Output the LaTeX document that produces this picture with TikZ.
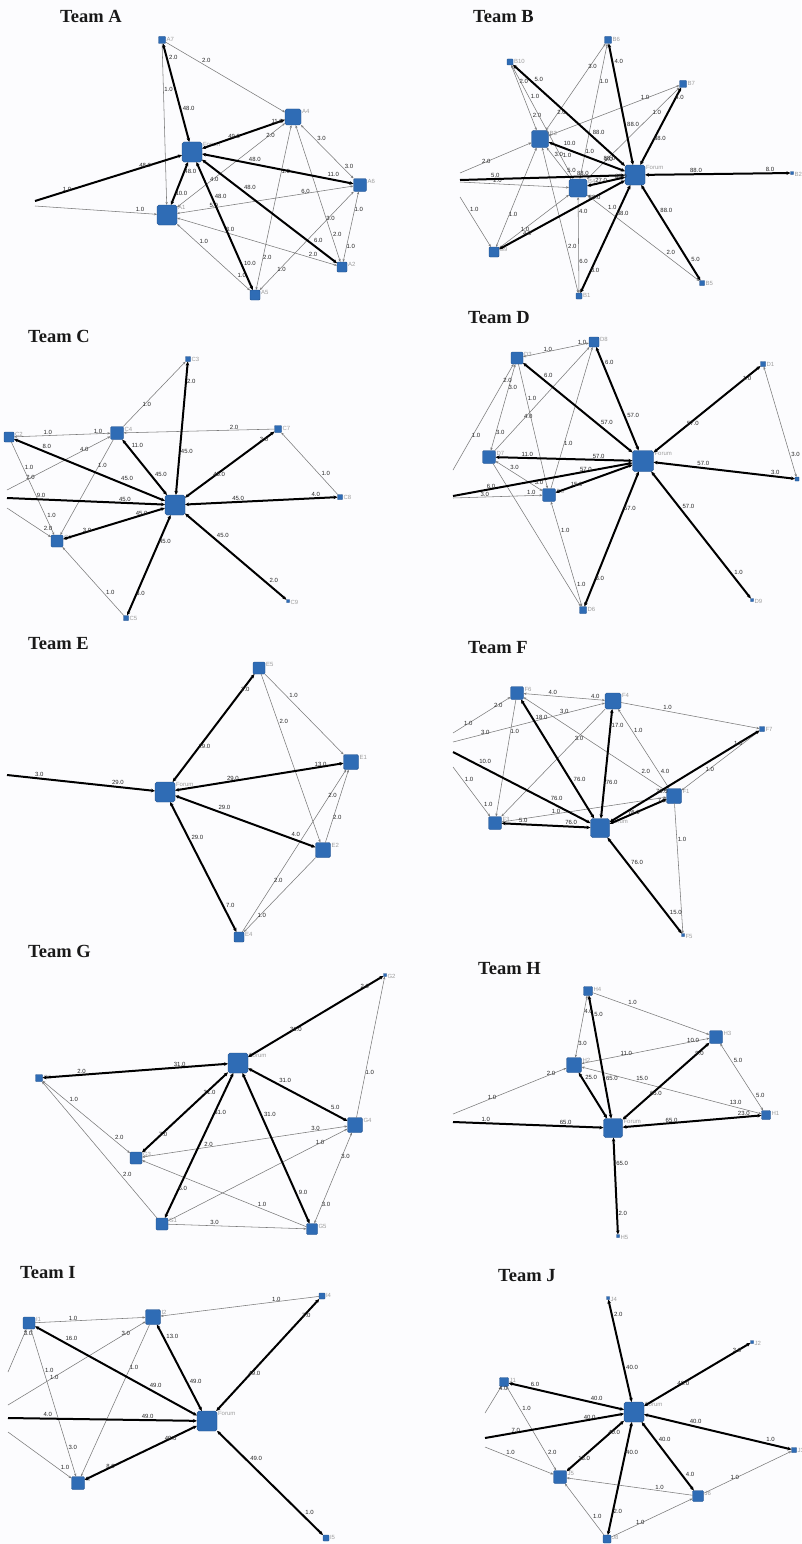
\documentclass[tikz,border=0pt]{standalone}
\usepackage{fontspec}
\setmainfont{Liberation Serif}
\newfontfamily\sansf{Liberation Sans}
\usetikzlibrary{arrows.meta}
\definecolor{nb}{HTML}{2F6CB5}
\definecolor{nbd}{HTML}{1F4E8A}
\definecolor{eg}{HTML}{7A7A7A}
\definecolor{bgc}{HTML}{FCFCFE}
\tikzset{
  nd/.style={draw=nbd, line width=0.4pt, fill=nb, /utils/exec={\pgfmathsetmacro\rcrn{min(1.8,#1*0.1)}}, rounded corners=\rcrn pt, minimum size=#1pt, inner sep=0pt, outer sep=0pt},
  nl/.style={anchor=west, font=\sansf\fontsize{6}{6}\selectfont, text=black!38, inner sep=0.8pt, yshift=-2.5pt},
  lbl/.style={anchor=south west, font=\sansf\fontsize{6}{6}\selectfont, text=black!85, inner sep=0.5pt},
  th/.style={line width=2pt, black, >={Stealth[length=4pt,width=3.6pt]}},
  tn/.style={line width=0.55pt, eg, >={Stealth[length=3pt,width=2.3pt]}},
  ttl/.style={anchor=base west, font=\bfseries\fontsize{18.5}{19}\selectfont, inner sep=0pt, text=black!90}
}
\newcommand\nd[5]{\node[nd=#4, label={[nl]north east:#5}] (#1) at (#2,#3) {};}
\newcommand\ed[5]{\draw[#1] (#2) -- node[lbl,pos=.3]{#4} node[lbl,pos=.82]{#5} (#3);}
\begin{document}
\begin{tikzpicture}[x=1pt,y=-1pt]
\fill[bgc] (0,0) rectangle (801,1544);
\useasboundingbox (0,0) rectangle (801,1544);
% ================= Team A
\node[ttl] (tA) at (60,23) {Team A};
\nd{A7}{162}{40}{7}{A7}
\nd{A4}{293}{117}{16}{A4}
\nd{AF}{192}{152}{20}{Forum}
\nd{A6}{360}{185}{13}{A6}
\nd{A1}{167}{215}{20}{A1}
\nd{A2}{342}{267}{10}{A2}
\nd{A5}{255}{295}{10}{A5}
\coordinate (AL1) at (35,201);
\coordinate (AL2) at (35,206);
\ed{tn,->}{A7}{A4}{2.0}{}
\ed{tn,->}{A7}{A1}{1.0}{}
\ed{tn,<->}{A1}{A4}{4.0}{2.0}
\ed{tn,<->}{A4}{A6}{3.0}{3.0}
\ed{tn,<->}{A4}{A5}{1.0}{2.0}
\ed{tn,<->}{A4}{A2}{}{2.0}
\ed{tn,<->}{A6}{A1}{6.0}{5.0}
\ed{tn,<->}{A6}{A2}{1.0}{1.0}
\ed{tn,<->}{A6}{A5}{3.0}{1.0}
\ed{tn,<->}{A1}{A2}{3.0}{2.0}
\ed{tn,<->}{A1}{A5}{1.0}{1.0}
\ed{tn,->}{AL2}{A1}{}{1.0}
\ed{th,<->}{AF}{A7}{48.0}{2.0}
\ed{th,<->}{AF}{A4}{49.0}{11.0}
\ed{th,<-}{AF}{AL1}{48.0}{1.0}
\ed{th,<->}{AF}{A6}{48.0}{11.0}
\ed{th,<->}{AF}{A1}{48.0}{10.0}
\ed{th,<->}{AF}{A5}{48.0}{10.0}
\ed{th,<->}{AF}{A2}{48.0}{6.0}
% ================= Team B
\node[ttl] (tB) at (473,23) {Team B};
\nd{B6}{608}{40}{7}{B6}
\nd{B10}{510}{62}{6}{B10}
\nd{B7}{683}{84}{7}{B7}
\nd{B3}{540}{139}{17}{B3}
\nd{BF}{635}{175}{20}{Forum}
\nd{B2}{792}{173}{3}{B2}
\nd{B4}{578}{188}{18}{B4}
\nd{B9}{494}{252}{10}{B9}
\nd{B1}{579}{296}{6}{B1}
\nd{B5}{702}{283}{5}{B5}
\coordinate (BL1) at (460,180);
\coordinate (BL2) at (460,173);
\coordinate (BL3) at (460,182);
\coordinate (BL4) at (460,197);
\ed{tn,<->}{B10}{B3}{2.0}{2.0}
\ed{tn,<->}{B10}{B4}{1.0}{1.0}
\ed{tn,<->}{B6}{B3}{3.0}{2.0}
\ed{tn,<->}{B6}{B4}{1.0}{1.0}
\ed{tn,<->}{B7}{B3}{1.0}{}
\ed{tn,<->}{B7}{B4}{1.0}{1.0}
\ed{tn,->}{BL2}{B3}{2.0}{}
\ed{tn,->}{BL3}{B4}{2.0}{}
\ed{tn,->}{BL4}{B9}{1.0}{}
\ed{tn,<->}{B9}{B3}{1.0}{}
\ed{tn,<->}{B9}{B4}{1.0}{}
\ed{tn,<->}{B1}{B3}{2.0}{}
\ed{tn,<->}{B1}{B4}{6.0}{4.0}
\ed{tn,<->}{B5}{B4}{2.0}{1.0}
\ed{tn,<->}{B3}{B4}{3.0}{5.0}
\ed{th,<->}{BF}{B6}{88.0}{4.0}
\ed{th,<->}{BF}{B10}{88.0}{5.0}
\ed{th,<->}{BF}{B7}{88.0}{4.0}
\ed{th,<->}{BF}{B2}{88.0}{8.0}
\ed{th,<->}{BF}{B5}{88.0}{5.0}
\ed{th,<->}{BF}{B1}{88.0}{8.0}
\ed{th,<->}{BF}{B9}{88.0}{4.0}
\ed{th,<-}{BF}{BL1}{88.0}{5.0}
\ed{th,<->}{BF}{B3}{88.0}{10.0}
\ed{th,<->}{BF}{B4}{88.0}{27.0}
% ================= Team C
\node[ttl] (tC) at (28,342) {Team C};
\nd{C3}{188}{359}{5}{C3}
\nd{C2}{9}{437}{10}{C2}
\nd{C4}{117}{433}{13}{C4}
\nd{C7}{278}{429}{7}{C7}
\nd{C8}{340}{497}{5}{C8}
\nd{CF}{175}{505}{20}{}
\nd{C1}{57}{541}{12}{C1}
\nd{C9}{288}{601}{3}{C9}
\nd{C5}{126}{618}{5}{C5}
\coordinate (CL1) at (7,498);
\coordinate (CL2) at (7,490);
\coordinate (CL3) at (7,508);
\ed{tn,<->}{C2}{C4}{1.0}{1.0}
\ed{tn,->}{C4}{C3}{1.0}{}
\ed{tn,->}{C7}{C4}{2.0}{}
\ed{tn,->}{C8}{C7}{1.0}{}
\ed{tn,->}{C4}{C1}{1.0}{}
\ed{tn,<-}{C4}{CL2}{4.0}{2.0}
\ed{tn,->}{C2}{C1}{1.0}{1.0}
\ed{tn,->}{CL3}{C1}{}{2.0}
\ed{tn,->}{C5}{C1}{1.0}{}
\ed{th,<->}{CF}{C3}{45.0}{2.0}
\ed{th,<->}{CF}{C2}{45.0}{8.0}
\ed{th,<->}{CF}{C4}{45.0}{11.0}
\ed{th,<->}{CF}{C7}{45.0}{3.0}
\ed{th,<->}{CF}{C8}{45.0}{4.0}
\ed{th,<-}{CF}{CL1}{45.0}{9.0}
\ed{th,<->}{CF}{C1}{45.0}{3.0}
\ed{th,<->}{CF}{C5}{45.0}{3.0}
\ed{th,<->}{CF}{C9}{45.0}{2.0}
% ================= Team D
\node[ttl] (tD) at (468,323) {Team D};
\nd{D8}{594}{342}{10}{D8}
\nd{D3}{517}{358}{12}{D3}
\nd{D1}{763}{364}{5}{D1}
\nd{D7}{489}{457}{13}{D7}
\nd{DF}{643}{461}{21}{Forum}
\node[nd=4] (DR) at (797,479) {};
\nd{D5}{549}{495}{13}{D5}
\nd{D6}{583}{610}{7}{D6}
\nd{D9}{752}{600}{3}{D9}
\coordinate (DL1) at (453,496);
\coordinate (DL2) at (453,470);
\coordinate (DL3) at (453,498);
\ed{tn,<->}{D3}{D8}{1.0}{1.0}
\ed{tn,<->}{D3}{D7}{3.0}{3.0}
\ed{tn,->}{D3}{D5}{1.0}{}
\ed{tn,->}{D7}{D8}{4.0}{}
\ed{tn,->}{D5}{D8}{1.0}{}
\ed{tn,<->}{D7}{D5}{3.0}{3.0}
\ed{tn,->}{D7}{D6}{}{}
\ed{tn,<->}{D5}{D6}{1.0}{1.0}
\ed{tn,->}{DL2}{D3}{1.0}{2.0}
\ed{tn,->}{DL3}{D5}{3.0}{1.0}
\ed{tn,<->}{D1}{DR}{}{3.0}
\ed{th,<->}{DF}{D8}{57.0}{6.0}
\ed{th,<->}{DF}{D3}{57.0}{6.0}
\ed{th,<->}{DF}{D1}{57.0}{1.0}
\ed{th,<->}{DF}{D7}{57.0}{11.0}
\ed{th,<-}{DF}{DL1}{57.0}{6.0}
\ed{th,<->}{DF}{D5}{}{15.0}
\ed{th,<->}{DF}{DR}{57.0}{3.0}
\ed{th,<->}{DF}{D9}{57.0}{1.0}
\ed{th,<->}{DF}{D6}{57.0}{8.0}
% ================= Team E
\node[ttl] (tE) at (28,649) {Team E};
\nd{E5}{259}{668}{12}{E5}
\nd{E1}{351}{762}{15}{E1}
\nd{EF}{165}{792}{20}{Forum}
\nd{E2}{323}{850}{15}{E2}
\nd{E4}{239}{937}{10}{E4}
\coordinate (EL) at (7,775);
\ed{tn,->}{E5}{E1}{1.0}{}
\ed{tn,->}{E5}{E2}{2.0}{}
\ed{tn,->}{E4}{E1}{2.0}{2.0}
\ed{tn,->}{E2}{E1}{2.0}{}
\ed{tn,->}{E2}{E4}{}{1.0}
\ed{th,<->}{EF}{E5}{29.0}{2.0}
\ed{th,<->}{EF}{E1}{29.0}{13.0}
\ed{th,<-}{EF}{EL}{29.0}{3.0}
\ed{th,<->}{EF}{E2}{29.0}{4.0}
\ed{th,<->}{EF}{E4}{29.0}{7.0}
% ================= Team F
\node[ttl] (tF) at (468,653) {Team F};
\nd{F6}{517}{693}{13}{F6}
\nd{F4}{613}{701}{16}{F4}
\nd{F7}{762}{729}{5}{F7}
\nd{F1}{674}{796}{15}{F1}
\nd{F3}{495}{823}{13}{F3}
\nd{FF}{600}{828}{19}{Forum}
\nd{F5}{683}{935}{3}{F5}
\coordinate (FL0) at (453,733);
\coordinate (FL1) at (453,742);
\coordinate (FL2) at (453,752);
\coordinate (FL3) at (453,767);
\ed{tn,<->}{F6}{F4}{4.0}{4.0}
\ed{tn,->}{F4}{F7}{1.0}{}
\ed{tn,<-}{F6}{FL0}{2.0}{1.0}
\ed{tn,<-}{F4}{FL1}{3.0}{3.0}
\ed{tn,->}{F6}{F3}{1.0}{}
\ed{tn,<->}{F6}{F1}{}{2.0}
\ed{tn,->}{F4}{F3}{3.0}{}
\ed{tn,<->}{F4}{F1}{1.0}{4.0}
\ed{tn,<->}{F1}{F7}{1.0}{}
\ed{tn,<->}{F3}{F1}{1.0}{}
\ed{tn,->}{F1}{F5}{1.0}{}
\ed{tn,->}{FL3}{F3}{1.0}{1.0}
\ed{th,<->}{FF}{F6}{76.0}{18.0}
\ed{th,<->}{FF}{F4}{76.0}{17.0}
\ed{th,<-}{FF}{FL2}{76.0}{10.0}
\ed{th,<->}{FF}{F3}{76.0}{5.0}
\ed{th,<->}{FF}{F1}{76.0}{7.0}
\ed{th,<->}{FF}{F7}{76.0}{1.0}
\ed{th,<->}{FF}{F5}{76.0}{15.0}
% ================= Team G
\node[ttl] (tG) at (28,957) {Team G};
\nd{G2}{385}{975}{3}{G2}
\nd{GF}{238}{1063}{20}{Forum}
\nd{G6}{39}{1078}{7}{G6}
\nd{G4}{355}{1125}{15}{G4}
\nd{G3}{136}{1158}{12}{G3}
\nd{G1}{162}{1224}{12}{G1}
\nd{G5}{312}{1229}{11}{G5}
\ed{tn,->}{G4}{G2}{1.0}{}
\ed{tn,<->}{G6}{G3}{1.0}{2.0}
\ed{tn,->}{G1}{G6}{2.0}{}
\ed{tn,<->}{G3}{G4}{2.0}{3.0}
\ed{tn,->}{G1}{G4}{}{1.0}
\ed{tn,->}{G5}{G3}{1.0}{}
\ed{tn,->}{G1}{G5}{3.0}{}
\ed{tn,<->}{G4}{G5}{3.0}{3.0}
\ed{th,<->}{GF}{G2}{31.0}{2.0}
\ed{th,<->}{GF}{G6}{31.0}{2.0}
\ed{th,<->}{GF}{G4}{31.0}{5.0}
\ed{th,<->}{GF}{G3}{31.0}{7.0}
\ed{th,<->}{GF}{G1}{31.0}{6.0}
\ed{th,<->}{GF}{G5}{31.0}{9.0}
% ================= Team H
\node[ttl] (tH) at (478,974) {Team H};
\nd{H4}{588}{991}{9}{H4}
\nd{H3}{716}{1037}{13}{H3}
\nd{H2}{574}{1065}{15}{H2}
\nd{H1}{766}{1115}{9}{H1}
\nd{HF}{613}{1128}{19}{Forum}
\nd{H5}{618}{1236}{3}{H5}
\coordinate (HL1) at (453,1114);
\coordinate (HL2) at (453,1122);
\ed{tn,->}{H4}{H3}{1.0}{}
\ed{tn,<->}{H4}{H2}{4.0}{3.0}
\ed{tn,<->}{H2}{H3}{11.0}{10.0}
\ed{tn,<->}{H2}{H1}{15.0}{13.0}
\ed{tn,<->}{H3}{H1}{5.0}{5.0}
\ed{tn,->}{HL1}{H2}{1.0}{2.0}
\ed{th,<->}{HF}{H4}{65.0}{5.0}
\ed{th,<->}{HF}{H2}{}{25.0}
\ed{th,<->}{HF}{H3}{65.0}{9.0}
\ed{th,<->}{HF}{H1}{65.0}{23.0}
\ed{th,<-}{HF}{HL2}{65.0}{1.0}
\ed{th,<->}{HF}{H5}{65.0}{2.0}
% ================= Team I
\node[ttl] (tI) at (20,1278) {Team I};
\nd{I4}{322}{1296}{6}{I4}
\nd{I2}{153}{1317}{15}{I2}
\nd{I1}{29}{1323}{12}{I1}
\nd{IF}{207}{1421}{20}{Forum}
\nd{I3}{78}{1483}{13}{I3}
\nd{I5}{326}{1538}{6}{I5}
\coordinate (IL1) at (8,1418);
\coordinate (IL2) at (8,1372);
\coordinate (IL3) at (8,1405);
\coordinate (IL4) at (8,1432);
\ed{tn,->}{I1}{I2}{1.0}{}
\ed{tn,->}{I4}{I2}{1.0}{}
\ed{tn,->}{IL2}{I1}{}{3.0}
\ed{tn,->}{IL3}{I2}{1.0}{3.0}
\ed{tn,<->}{I1}{I3}{1.0}{3.0}
\ed{tn,->}{I2}{I3}{1.0}{}
\ed{tn,->}{IL4}{I3}{}{1.0}
\ed{th,<->}{IF}{I4}{49.0}{7.0}
\ed{th,<->}{IF}{I2}{49.0}{13.0}
\ed{th,<->}{IF}{I1}{49.0}{16.0}
\ed{th,<-}{IF}{IL1}{49.0}{4.0}
\ed{th,<->}{IF}{I3}{49.0}{8.0}
\ed{th,<->}{IF}{I5}{49.0}{1.0}
% ================= Team J
\node[ttl] (tJ) at (498,1281) {Team J};
\nd{J4}{608}{1298}{3}{J4}
\nd{J2}{752}{1342}{3}{J2}
\nd{J1}{504}{1382}{9}{J1}
\nd{JF}{634}{1412}{20}{Forum}
\nd{J3}{794}{1450}{5}{J3}
\nd{J5}{560}{1477}{13}{J5}
\nd{J6}{698}{1496}{11}{J6}
\nd{J8}{607}{1539}{8}{J8}
\coordinate (JL1) at (485,1413);
\coordinate (JL2) at (485,1438);
\coordinate (JL3) at (485,1447);
\ed{tn,->}{JL1}{J1}{}{4.0}
\ed{tn,<->}{J1}{J5}{1.0}{2.0}
\ed{tn,->}{JL3}{J5}{1.0}{}
\ed{tn,->}{J6}{J5}{1.0}{}
\ed{tn,->}{J6}{J3}{1.0}{}
\ed{tn,->}{J8}{J5}{1.0}{}
\ed{tn,->}{J8}{J6}{1.0}{}
\ed{th,<->}{JF}{J4}{40.0}{2.0}
\ed{th,<->}{JF}{J2}{40.0}{3.0}
\ed{th,<->}{JF}{J1}{40.0}{6.0}
\ed{th,<-}{JF}{JL2}{40.0}{7.0}
\ed{th,<->}{JF}{J5}{40.0}{13.0}
\ed{th,<->}{JF}{J3}{40.0}{1.0}
\ed{th,<->}{JF}{J6}{40.0}{4.0}
\ed{th,<->}{JF}{J8}{40.0}{2.0}
\end{tikzpicture}
\end{document}
